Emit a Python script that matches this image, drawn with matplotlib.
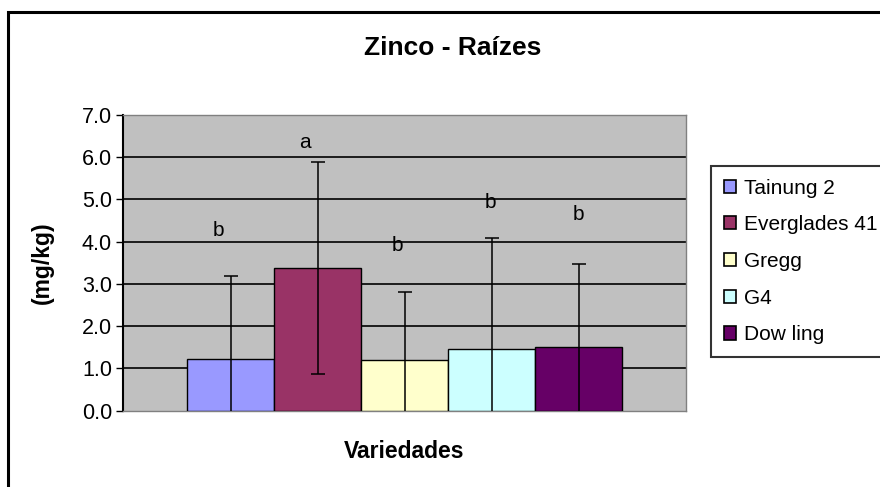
import numpy as np
import matplotlib
matplotlib.use("Agg")
import matplotlib.pyplot as plt
from matplotlib.patches import Rectangle

plt.rcParams['font.family'] = ['Liberation Sans', 'DejaVu Sans']

# data
varieties = ['Tainung 2', 'Everglades 41', 'Gregg', 'G4', 'Dow ling']
means = [1.23, 3.38, 1.19, 1.46, 1.51]
errors = [1.96, 2.51, 1.61, 2.63, 1.96]
letters = ['b', 'a', 'b', 'b', 'b']
letter_y = [4.27, 6.35, 3.90, 4.93, 4.65]
colors = ['#9999FF', '#993366', '#FFFFCC', '#CCFFFF', '#660066']
yticks = [0, 1, 2, 3, 4, 5, 6, 7]

W, H = 880, 487
fig = plt.figure(figsize=(W / 100, H / 100), dpi=100)
ax = fig.add_axes([123 / W, 1 - 410.7 / H, (686 - 123) / W, (410.7 - 115) / H])
ax.set_facecolor('#C0C0C0')

x = np.arange(len(means))
bars = ax.bar(x, means, width=1.0, color=colors, edgecolor='black', linewidth=1.0,
              zorder=3)
ax.errorbar(x, means, yerr=errors, fmt='none', ecolor='black', elinewidth=1.1,
            capsize=4.7, capthick=1.1, zorder=4)

# letters (slight left shift as in original, in pixels -> data units)
px_per_unit = 87.0
shift_px = [-12, -13, -7, -1, 0]
for i in range(len(letters)):
    ax.text(x[i] + shift_px[i] / px_per_unit, letter_y[i], letters[i], ha='center',
            va='center', fontsize=15)

ax.set_xlim(2 - 563 / 2 / px_per_unit, 2 + 563 / 2 / px_per_unit)
ax.set_ylim(0, 7)
ax.set_yticks(yticks)
ax.set_yticklabels(['%.1f' % v for v in yticks], fontsize=15.5)
ax.set_xticks([])
ax.tick_params(axis='y', direction='out', length=5, width=1, pad=3, colors='black')
ax.yaxis.grid(True, color='black', linewidth=1.2, zorder=0)
ax.set_axisbelow(True)
gl = ax.yaxis.get_gridlines()
gl[0].set_visible(False)
gl[-1].set_visible(False)

ax.spines['left'].set_color('black')
ax.spines['left'].set_linewidth(1.5)
for s in ['top', 'right', 'bottom']:
    ax.spines[s].set_color('#808080')
    ax.spines[s].set_linewidth(1.0)

fig.text(453 / W, 1 - 48 / H, 'Zinco - Raízes', ha='center', va='center',
         fontsize=19, fontweight='bold')
fig.text(404.5 / W, 1 - 452 / H, 'Variedades', ha='center', va='center',
         fontsize=16.5, fontweight='bold')
fig.text(42 / W, 1 - 263 / H, '(mg/kg)', ha='center', va='center', rotation=90,
         fontsize=16.5, fontweight='bold')

leg = fig.legend(bars, varieties, loc='upper left',
                 bbox_to_anchor=(711 / W, 1 - 166 / H), fontsize=15,
                 frameon=True, fancybox=False, borderaxespad=0,
                 handlelength=0.6, handleheight=0.6, handletextpad=0.4,
                 labelspacing=0.85, borderpad=0.6)
leg.get_frame().set_edgecolor('black')
leg.get_frame().set_linewidth(1.5)
for p in leg.get_patches():
    p.set_edgecolor('black')
    p.set_linewidth(1.2)

# chart border
fig.patches.append(Rectangle((8 / W, -0.1), 1.2, 1 - 12 / H + 0.1,
                             transform=fig.transFigure, fill=False,
                             edgecolor='black', linewidth=2.2))

fig.savefig('out.png', dpi=100)
